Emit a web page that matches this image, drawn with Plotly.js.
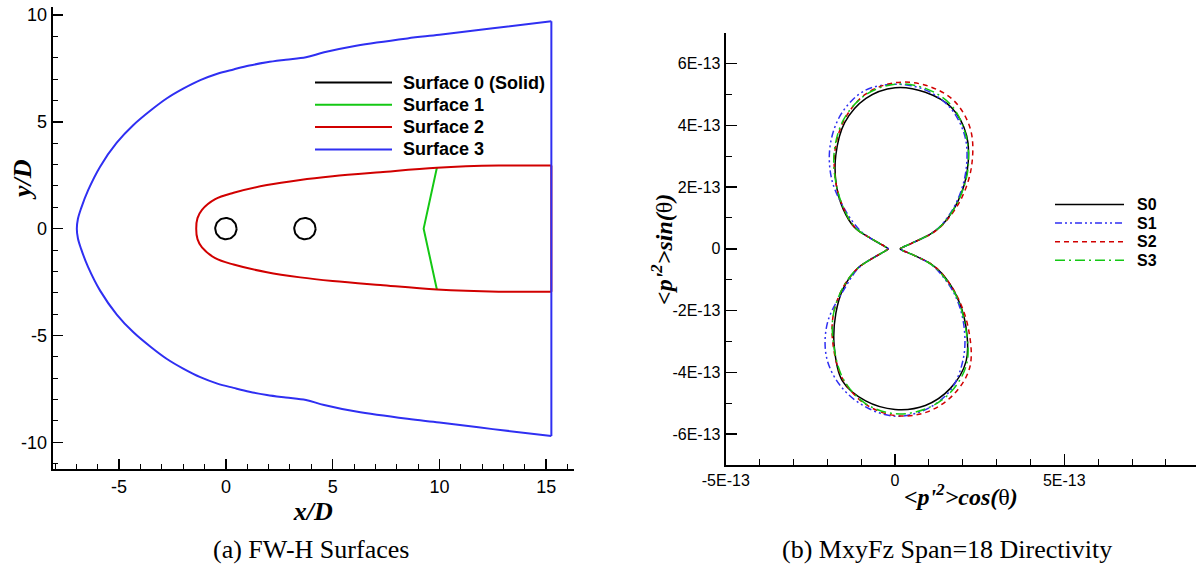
<!DOCTYPE html>
<html><head><meta charset="utf-8">
<script src="https://cdn.plot.ly/plotly-3.0.1.min.js"></script>
<style>html,body{margin:0;padding:0;background:#fff}#chart{width:1196px;height:569px}</style>
</head><body><div id="chart"></div>
<script>
// ---------- Panel (a): FW-H surfaces, coordinates in x/D, y/D ----------
// Surface 3 (outer, blue): from top-right corner, round the nose, to bottom-right corner
const surf3X = [15.24, 12.5, 10.0, 8.5, 6.1, 4.6, 3.75, 2.8, 1.92, 1.1, 0.36, -0.4, -1.2, -2.0, -2.76, -3.5, -4.33, -5.11, -5.89, -6.45, -6.78, -6.93, -6.98,
                -6.93, -6.78, -6.45, -5.89, -5.11, -4.33, -3.5, -2.76, -2.0, -1.2, -0.4, 0.36, 1.1, 1.92, 2.8, 3.75, 4.6, 6.1, 8.5, 10.0, 12.5, 15.24];
const surf3Y = [9.70, 9.38, 9.07, 8.90, 8.56, 8.25, 8.02, 7.90, 7.78, 7.63, 7.45, 7.25, 6.95, 6.55, 6.10, 5.55, 4.85, 4.02, 2.9, 1.8, 0.95, 0.45, 0,
                -0.45, -0.95, -1.8, -2.9, -4.02, -4.85, -5.55, -6.10, -6.55, -6.95, -7.25, -7.45, -7.63, -7.78, -7.90, -8.02, -8.25, -8.56, -8.90, -9.07, -9.38, -9.70];
// Surface 2 (inner, red)
const surf2X = [15.24, 12.77, 9.88, 7.23, 5.0, 3.48, 1.92, 0.36, -0.5, -1.12, -1.33, -1.39,
                -1.33, -1.12, -0.5, 0.36, 1.92, 3.48, 5.0, 7.23, 9.88, 12.77, 15.24];
const surf2Y = [2.95, 2.95, 2.85, 2.64, 2.45, 2.28, 2.04, 1.68, 1.38, 0.88, 0.49, 0,
                -0.49, -0.88, -1.38, -1.68, -2.04, -2.28, -2.45, -2.64, -2.85, -2.95, -2.95];
// Surface 1 (green chevron)
const surf1X = [9.88, 9.26, 9.88];
const surf1Y = [2.85, 0, -2.85];
// Surface 0 (solid): tandem cylinders, centres and diameter D = 1
const cylCx = [0, 3.7];
const cylCy = [0, 0];
const cylD = 1;

const xTicksA = [-5, 0, 5, 10, 15];
const xTickTextA = ['-5', '0', '5', '10', '15'];
const yTicksA = [-10, -5, 0, 5, 10];
const yTickTextA = ['-10', '-5', '0', '5', '10'];
const legendA = ['Surface 0 (Solid)', 'Surface 1', 'Surface 2', 'Surface 3'];

// ---------- Panel (b): directivity <p'^2>(theta), magnitude in units of 1E-13 ----------
const UNIT = 1e-13;
const thetaDeg = [0, 5, 10, 15, 20, 25, 30, 40, 50, 60, 70, 80, 90, 100, 110, 120, 130, 140, 150, 155, 160, 165, 170, 175,
                  180, 185, 190, 195, 200, 205, 210, 220, 230, 240, 250, 260, 270, 280, 290, 300, 310, 320, 330, 335, 340, 345, 350, 355, 360];
const pS0 = [0.15, 0.16, 0.19, 0.27, 0.5, 1.2, 1.66, 2.44, 3.32, 4.23, 4.87, 5.15, 5.22, 4.95, 4.35, 3.5, 2.7, 2.0, 1.38, 0.75, 0.45, 0.32, 0.26, 0.22,
             0.2, 0.22, 0.26, 0.32, 0.45, 0.75, 1.3, 2.0, 2.72, 3.6, 4.55, 5.0, 5.2, 5.15, 4.8, 4.2, 3.25, 2.37, 1.6, 1.2, 0.55, 0.27, 0.19, 0.16, 0.15];
const pS1 = [0.15, 0.16, 0.19, 0.27, 0.5, 1.2, 1.62, 2.38, 3.25, 4.15, 4.83, 5.22, 5.33, 5.2, 4.65, 3.84, 2.9, 1.9, 1.2, 0.8, 0.45, 0.32, 0.26, 0.22,
             0.2, 0.22, 0.26, 0.32, 0.45, 0.8, 1.25, 1.9, 3.1, 4.05, 4.72, 5.18, 5.42, 5.28, 4.84, 4.05, 3.15, 2.3, 1.5, 1.15, 0.55, 0.27, 0.19, 0.16, 0.15];
const pS2 = [0.15, 0.16, 0.19, 0.28, 0.52, 1.25, 1.7, 2.57, 3.52, 4.46, 5.1, 5.37, 5.38, 5.08, 4.42, 3.57, 2.7, 1.95, 1.35, 0.75, 0.45, 0.32, 0.26, 0.22,
             0.2, 0.22, 0.26, 0.32, 0.45, 0.75, 1.3, 2.05, 2.85, 3.65, 4.5, 5.1, 5.4, 5.37, 5.03, 4.42, 3.37, 2.4, 1.6, 1.2, 0.55, 0.27, 0.19, 0.16, 0.15];
const pS3 = [0.15, 0.16, 0.19, 0.27, 0.5, 1.2, 1.65, 2.45, 3.35, 4.2, 4.92, 5.27, 5.33, 5.06, 4.45, 3.6, 2.7, 1.95, 1.35, 0.75, 0.45, 0.32, 0.26, 0.22,
             0.2, 0.22, 0.26, 0.32, 0.45, 0.75, 1.3, 2.05, 2.85, 3.62, 4.48, 5.08, 5.34, 5.26, 4.9, 4.25, 3.22, 2.35, 1.55, 1.15, 0.55, 0.27, 0.19, 0.16, 0.15];
const seriesB = ['S0', 'S1', 'S2', 'S3'];

const xTicksB = [-5, 0, 5];
const xTickTextB = ['-5E-13', '0', '5E-13'];
const yTicksB = [-6, -4, -2, 0, 2, 4, 6];
const yTickTextB = ['-6E-13', '-4E-13', '-2E-13', '0', '2E-13', '4E-13', '6E-13'];

// ---------- build traces ----------
function polarToXY(r) {
  return {
    x: r.map((v, i) => v * UNIT * Math.cos(thetaDeg[i] * Math.PI / 180)),
    y: r.map((v, i) => v * UNIT * Math.sin(thetaDeg[i] * Math.PI / 180))
  };
}
function cylinders() {
  const xs = [], ys = [];
  cylCx.forEach((cx, i) => {
    for (let a = 0; a <= 360; a += 6) {
      const t = a * Math.PI / 180;
      xs.push(cx + cylD / 2 * Math.cos(t));
      ys.push(cylCy[i] + cylD / 2 * Math.sin(t));
    }
    xs.push(null); ys.push(null);
  });
  return {x: xs, y: ys};
}
const cyl = cylinders();
const BLUE = '#2f2ff2', RED = '#d10000', GREEN = '#14c814';
const styleA = [
  {color: '#000', width: 2}, {color: GREEN, width: 2}, {color: RED, width: 2}, {color: BLUE, width: 2}
];
const styleB = [
  {color: '#000', width: 1.5},
  {color: BLUE, width: 1.5, dash: '7px,3px,2px,3px,2px,3px'},
  {color: RED, width: 1.5, dash: '5px,4px'},
  {color: GREEN, width: 1.5, dash: '10px,4px,2px,4px'}
];

const traces = [
  {x: cyl.x, y: cyl.y, mode: 'lines', name: legendA[0], line: styleA[0], xaxis: 'x', yaxis: 'y'},
  {x: surf1X, y: surf1Y, mode: 'lines', name: legendA[1], line: styleA[1], xaxis: 'x', yaxis: 'y'},
  {x: surf2X, y: surf2Y, mode: 'lines', name: legendA[2], line: Object.assign({shape: 'spline', smoothing: 1}, styleA[2]), xaxis: 'x', yaxis: 'y'},
  {x: [surf2X[surf2X.length - 1], surf2X[0]], y: [surf2Y[surf2Y.length - 1], surf2Y[0]], mode: 'lines', name: legendA[2], line: styleA[2], xaxis: 'x', yaxis: 'y'},
  {x: surf3X, y: surf3Y, mode: 'lines', name: legendA[3], line: Object.assign({shape: 'spline', smoothing: 1}, styleA[3]), xaxis: 'x', yaxis: 'y'},
  {x: [surf3X[surf3X.length - 1], surf3X[0]], y: [surf3Y[surf3Y.length - 1], surf3Y[0]], mode: 'lines', name: legendA[3], line: styleA[3], xaxis: 'x', yaxis: 'y'}
];
[pS0, pS1, pS2, pS3].forEach((r, k) => {
  const d = polarToXY(r);
  traces.push({x: d.x, y: d.y, mode: 'lines', name: seriesB[k],
    line: Object.assign({shape: 'spline', smoothing: 1}, styleB[k]), xaxis: 'x2', yaxis: 'y2'});
});

// ---------- legends (key lines + labels in paper space) ----------
const W = 1196, H = 569;
const px = v => v / W, py = v => 1 - v / H;
const shapes = [], annotations = [];
const SERIF = 'Liberation Serif, Times New Roman, serif';
const SANS = 'Liberation Sans, Arial, Helvetica, sans-serif';
legendA.forEach((name, i) => {
  const yy = 82.5 + i * 22.3;
  shapes.push({type: 'line', xref: 'paper', yref: 'paper', x0: px(315), x1: px(392), y0: py(yy), y1: py(yy), line: styleA[i]});
  annotations.push({text: '<b>' + name + '</b>', xref: 'paper', yref: 'paper', x: px(401), y: py(yy), xanchor: 'left', yanchor: 'middle',
    showarrow: false, font: {family: SANS, size: 18, color: '#000'}});
});
seriesB.forEach((name, i) => {
  const yy = 204.5 + i * 18.6;
  shapes.push({type: 'line', xref: 'paper', yref: 'paper', x0: px(1055), x1: px(1124), y0: py(yy), y1: py(yy), line: styleB[i]});
  annotations.push({text: '<b>' + name + '</b>', xref: 'paper', yref: 'paper', x: px(1135), y: py(yy), xanchor: 'left', yanchor: 'middle',
    showarrow: false, font: {family: SANS, size: 16, color: '#000'}});
});
annotations.push(
  {text: '<b><i>y/D</i></b>', xref: 'paper', yref: 'paper', x: px(23), y: py(180), showarrow: false, textangle: -90,
    font: {family: SERIF, size: 26, color: '#000'}, xanchor: 'center', yanchor: 'middle'},
  {text: '<b><i>&lt;p\'<sup>2</sup>&gt;sin(</i></b>θ<b><i>)</i></b>', xref: 'paper', yref: 'paper', x: px(662), y: py(250), showarrow: false, textangle: -90,
    font: {family: SERIF, size: 24, color: '#000'}, xanchor: 'center', yanchor: 'middle'},
  {text: '(a) FW-H Surfaces', xref: 'paper', yref: 'paper', x: px(311), y: py(549), showarrow: false,
    font: {family: SERIF, size: 26, color: '#000'}, xanchor: 'center', yanchor: 'middle'},
  {text: '(b) MxyFz Span=18 Directivity', xref: 'paper', yref: 'paper', x: px(947), y: py(549), showarrow: false,
    font: {family: SERIF, size: 26, color: '#000'}, xanchor: 'center', yanchor: 'middle'}
);

const axBase = {showline: true, linewidth: 2, linecolor: '#000', showgrid: false, zeroline: false,
  ticks: 'inside', ticklen: 10, tickwidth: 1.5, tickcolor: '#000', tickmode: 'array'};

const layout = {
  width: W, height: H, margin: {l: 0, r: 0, t: 0, b: 0},
  paper_bgcolor: '#fff', plot_bgcolor: 'rgba(0,0,0,0)',
  font: {family: SANS, color: '#000'},
  showlegend: false,
  xaxis: Object.assign({}, axBase, {domain: [0.04406, 0.47993], range: [-8.11, 16.3], anchor: 'y',
    tickvals: xTicksA, ticktext: xTickTextA, tickfont: {size: 18, family: SANS, color: '#000'},
    title: {text: '<b><i>x/D</i></b>', font: {family: SERIF, size: 26, color: '#000'}, standoff: 0},
    minor: {ticks: 'inside', ticklen: 5, tickwidth: 1, tickcolor: '#000', dtick: 1, tick0: 0}}),
  yaxis: Object.assign({}, axBase, {domain: [0.17522, 0.98770], range: [-11.26, 10.37], anchor: 'x',
    tickvals: yTicksA, ticktext: yTickTextA, tickfont: {size: 18, family: SANS, color: '#000'},
    minor: {ticks: 'inside', ticklen: 5, tickwidth: 1, tickcolor: '#000', dtick: 1, tick0: 0}}),
  xaxis2: Object.assign({}, axBase, {domain: [0.60677, 1], range: [-5.003 * UNIT, 8.89 * UNIT], anchor: 'y2',
    tickvals: xTicksB.map(v => v * UNIT), ticktext: xTickTextB, tickfont: {size: 16, family: SANS, color: '#000'}, ticklen: 11,
    title: {text: '<b><i>&lt;p\'<sup>2</sup>&gt;cos(</i></b>θ<b><i>)</i></b>', font: {family: SERIF, size: 24, color: '#000'}, standoff: 0},
    minor: {ticks: 'inside', ticklen: 6, tickwidth: 1, tickcolor: '#000', dtick: UNIT, tick0: 0}}),
  yaxis2: Object.assign({}, axBase, {domain: [0.18278, 0.94253], range: [-7 * UNIT, 7 * UNIT], anchor: 'x2',
    tickvals: yTicksB.map(v => v * UNIT), ticktext: yTickTextB, tickfont: {size: 16, family: SANS, color: '#000'}, ticklen: 11,
    minor: {ticks: 'inside', ticklen: 6, tickwidth: 1, tickcolor: '#000', dtick: UNIT, tick0: 0}}),
  shapes: shapes,
  annotations: annotations
};
Plotly.newPlot('chart', traces, layout, {displayModeBar: false, staticPlot: true});
</script></body></html>
